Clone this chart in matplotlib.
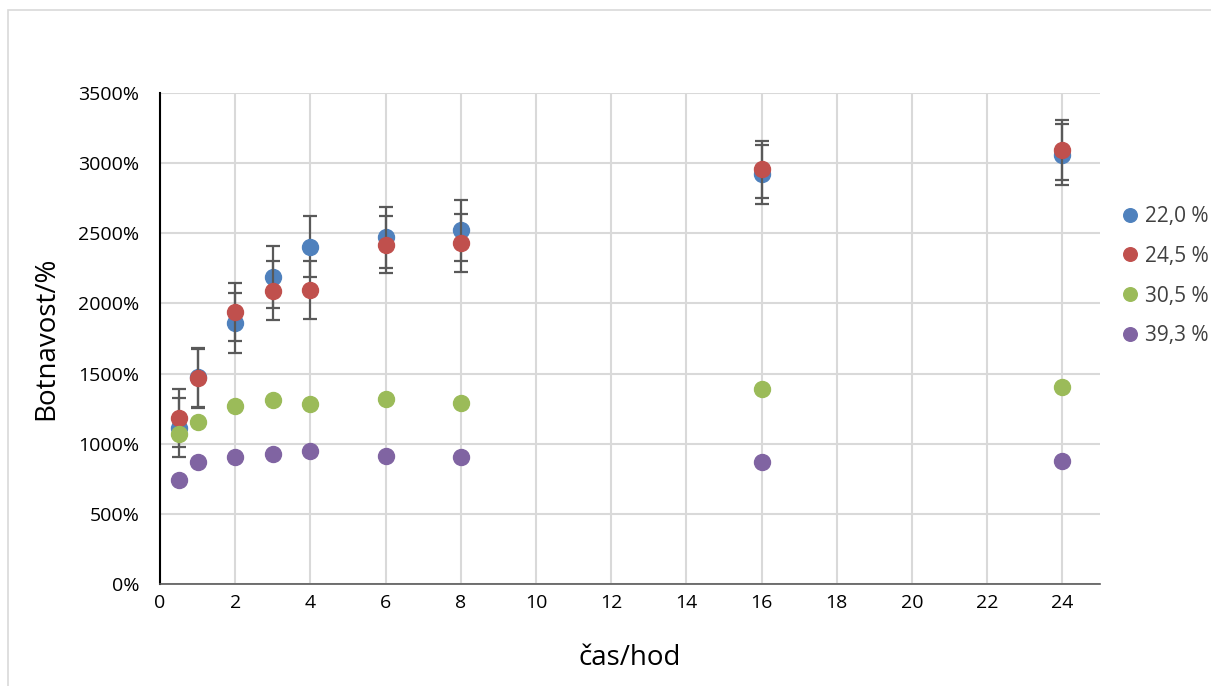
import matplotlib.pyplot as plt
from matplotlib.patches import Rectangle
from matplotlib.ticker import FuncFormatter

plt.rcParams["font.family"] = ["Open Sans", "DejaVu Sans"]

hours = [0.5, 1, 2, 3, 4, 6, 8, 16, 24]

labels = ["22,0 %", "24,5 %", "30,5 %", "39,3 %"]
colors = ["#4f81bd", "#c0504d", "#9bbb59", "#8064a2"]

s22 = [1115, 1472, 1860, 2190, 2405, 2470, 2520, 2920, 3060]
s24 = [1185, 1465, 1940, 2090, 2095, 2420, 2430, 2955, 3095]
s30 = [1068, 1155, 1268, 1310, 1283, 1322, 1290, 1388, 1402]
s39 = [740, 870, 905, 925, 945, 912, 905, 870, 875]

e22 = [212, 210, 214, 220, 215, 215, 215, 212, 218]
e24 = [205, 210, 205, 210, 207, 205, 207, 205, 212]

series = [s22, s24, s30, s39]
errors = [e22, e24, None, None]

fig = plt.figure(figsize=(12.11, 6.86), dpi=100)
fig.patches.append(Rectangle((8 / 1211, -0.01), 1.1, 1 - 10 / 686 + 0.01,
                             transform=fig.transFigure, fill=False,
                             edgecolor="#d9d9d9", linewidth=1.2))

ax = fig.add_axes([160 / 1211, 1 - 584 / 686, 940 / 1211, 491 / 686])

for i in range(4):
    if errors[i] is not None:
        ax.errorbar(hours, series[i], yerr=errors[i], fmt="none",
                    ecolor="#595959", elinewidth=1.6, capsize=5,
                    capthick=1.6, zorder=2 + i)
    ax.plot(hours, series[i], "o", color=colors[i], markersize=11.5,
            label=labels[i], zorder=3 + i)

ax.set_xlim(0, 25)
ax.set_ylim(0, 3500)
ax.set_xticks(range(0, 25, 2))
ax.set_yticks(range(0, 3501, 500))
ax.yaxis.set_major_formatter(FuncFormatter(lambda v, p: f"{v:.0f}%"))
ax.tick_params(length=0, labelsize=14, colors="#000000")
ax.tick_params(axis="y", pad=15)
ax.tick_params(axis="x", pad=7)

ax.grid(True, color="#d9d9d9", linewidth=1.5)
ax.set_axisbelow(True)
for s in ["top", "right"]:
    ax.spines[s].set_visible(False)
ax.spines["left"].set_color("#000000")
ax.spines["left"].set_linewidth(1.5)
ax.spines["bottom"].set_color("#595959")
ax.spines["bottom"].set_linewidth(1.2)

ax.set_xlabel("čas/hod", fontsize=20, va="center")
ax.set_ylabel("Botnavost/%", fontsize=20, va="center")
ax.xaxis.set_label_coords(0.5, (584 - 658) / 491)
ax.yaxis.set_label_coords((46 - 160) / 940, 0.5)

leg = ax.legend(loc="upper left", bbox_to_anchor=(0.995, 0.808), frameon=False,
                fontsize=15, handletextpad=0.0, labelspacing=0.9,
                markerscale=0.85, handlelength=1.5)
for t in leg.get_texts():
    t.set_color("#404040")

fig.savefig("out.png", dpi=100)
